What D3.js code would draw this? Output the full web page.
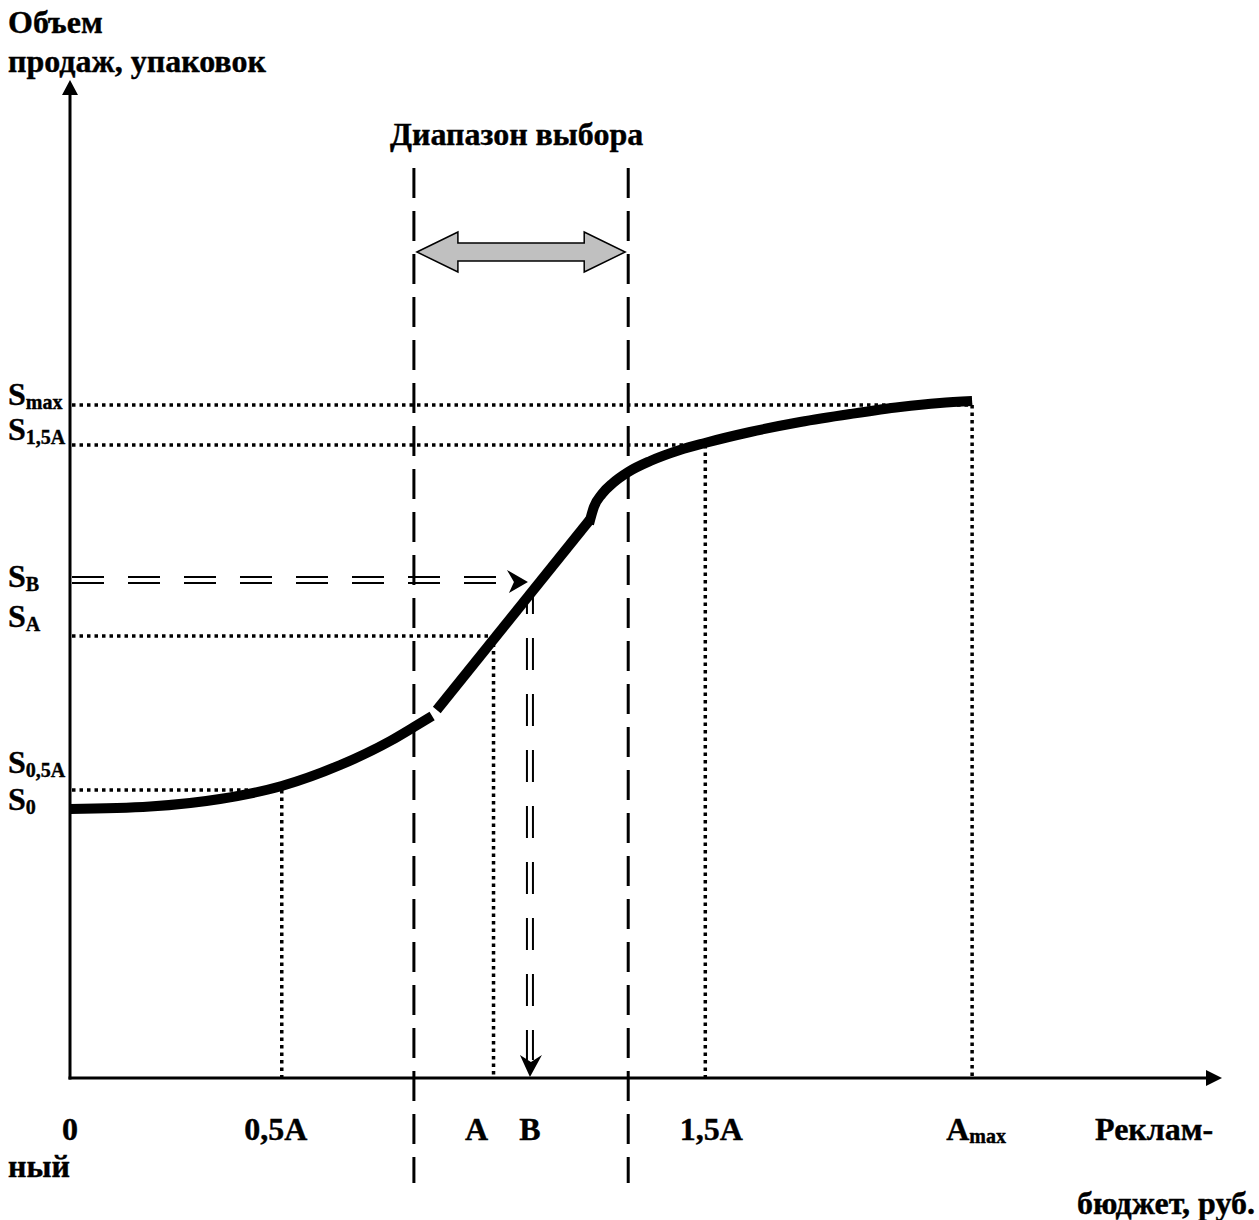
<!DOCTYPE html>
<html>
<head>
<meta charset="utf-8">
<title>Объем продаж и рекламный бюджет</title>
<style>
  body { margin: 0; background: #fff; }
  text { font-family: "Liberation Serif", "Times New Roman", serif; font-weight: bold; fill: #000; stroke: #000; stroke-width: 0.4px; }
</style>
</head>
<body>
<script src="https://cdn.jsdelivr.net/npm/d3@7/dist/d3.min.js"></script>
<script>
// значения по оси X (в долях A) и подписи
const xTickMain = ["0", "0,5A", "A", "B", "1,5A", "A"];
const xTickSub = ["", "", "", "", "", "max"];
const xTickValues = [0, 0.5, 1, 1.086, 1.5, 2.13];

// уровни продаж S
const sLevelSub = ["max", "1,5A", "B", "A", "0,5A", "0"];
const sLevelValues = [67.3, 63.3, 49.8, 44.2, 28.8, 26.9];

// диапазон выбора
const rangeX = [0.812, 1.318];

// кривая отклика: три участка
const lowX = [0, 0.189, 0.354, 0.5, 0.638, 0.756, 0.812, 0.855];
const lowY = [26.9, 27.15, 27.9, 29.2, 31.3, 33.7, 35.1, 36.2];
const midX = [0.866, 1.227];
const midY = [36.8, 55.8];
const highX = [1.2255, 1.237, 1.256, 1.282, 1.318, 1.370, 1.440, 1.499, 1.606, 1.724, 1.842, 1.960, 2.054, 2.130];
const highY = [55.4, 57.1, 58.4, 59.5, 60.6, 61.7, 62.8, 63.5, 64.6, 65.6, 66.4, 67.1, 67.5, 67.7];

var width = 1259, height = 1220;

var svg = d3.select("body").append("svg")
    .attr("width", width)
    .attr("height", height);

var x = d3.scaleLinear().domain([0, 2.72]).range([70, 1222]);
var y = d3.scaleLinear().domain([0, 100]).range([1078, 78]);

var line = d3.line()
    .x(d => x(d[0]))
    .y(d => y(d[1]))
    .curve(d3.curveMonotoneX);

var sVal = name => sLevelValues[sLevelSub.indexOf(name)];
var xVal = i => xTickValues[i];

// точечные линии уровней
var dotted = svg.append("g")
    .attr("stroke", "#000")
    .attr("stroke-width", 3.5)
    .attr("stroke-dasharray", "3.5,4")
    .attr("fill", "none");

var hDots = [["0,5A", 0.5], ["A", 1], ["1,5A", 1.5], ["max", 2.13]];
hDots.forEach(function (h) {
    dotted.append("line")
        .attr("x1", x(0) + 2).attr("x2", x(h[1]))
        .attr("y1", y(sVal(h[0]))).attr("y2", y(sVal(h[0])));
    dotted.append("line")
        .attr("x1", x(h[1])).attr("x2", x(h[1]))
        .attr("y1", y(sVal(h[0]))).attr("y2", y(0));
});

// вертикальные штриховые границы диапазона
svg.append("g").selectAll("line")
    .data(rangeX)
    .enter()
    .append("line")
    .attr("x1", d => x(d)).attr("x2", d => x(d))
    .attr("y1", 168).attr("y2", 1183)
    .attr("stroke", "#000")
    .attr("stroke-width", 3)
    .attr("stroke-dasharray", "30,13");

// двойная стрелка диапазона
var ay = 252, xl = x(rangeX[0]) + 3, xr = x(rangeX[1]) - 3;
var hl = 41, hh = 20, sh = 9;
svg.append("path")
    .attr("d", "M" + xl + "," + ay +
        "L" + (xl + hl) + "," + (ay - hh) + "L" + (xl + hl) + "," + (ay - sh) +
        "L" + (xr - hl) + "," + (ay - sh) + "L" + (xr - hl) + "," + (ay - hh) +
        "L" + xr + "," + ay +
        "L" + (xr - hl) + "," + (ay + hh) + "L" + (xr - hl) + "," + (ay + sh) +
        "L" + (xl + hl) + "," + (ay + sh) + "L" + (xl + hl) + "," + (ay + hh) + "Z")
    .attr("fill", "#c0c0c0")
    .attr("stroke", "#000")
    .attr("stroke-width", 1.5);

// двойная штриховая линия S_B
var sb = y(sVal("B")), bx = x(xVal(3));
[-3, 3].forEach(function (o) {
    svg.append("line")
        .attr("x1", x(0) + 2).attr("x2", bx - 20)
        .attr("y1", sb + o).attr("y2", sb + o)
        .attr("stroke", "#000").attr("stroke-width", 2)
        .attr("stroke-dasharray", "32,24");
});
svg.append("path")
    .attr("d", "M" + (bx - 2) + "," + (sb + 2) + "L" + (bx - 23) + "," + (sb - 10) +
        "L" + (bx - 16) + "," + (sb + 2) + "L" + (bx - 21) + "," + (sb + 13) + "Z")
    .attr("fill", "#000");

// двойная штриховая вертикаль от B вниз
[-3, 3].forEach(function (o) {
    svg.append("line")
        .attr("x1", bx + o).attr("x2", bx + o)
        .attr("y1", sb + 12).attr("y2", y(0) - 18)
        .attr("stroke", "#000").attr("stroke-width", 2)
        .attr("stroke-dasharray", "32,24")
        .attr("stroke-dashoffset", 10);
});
svg.append("path")
    .attr("d", "M" + bx + "," + (y(0) - 1) + "L" + (bx - 10) + "," + (y(0) - 23) +
        "L" + (bx + 1) + "," + (y(0) - 16) + "L" + (bx + 12) + "," + (y(0) - 23) + "Z")
    .attr("fill", "#000");

// оси
svg.append("line")
    .attr("x1", x(0)).attr("x2", x(0))
    .attr("y1", y(0) + 1.5).attr("y2", 92)
    .attr("stroke", "#000").attr("stroke-width", 3);
svg.append("path")
    .attr("d", "M70,80L62,95L78,95Z").attr("fill", "#000");
svg.append("line")
    .attr("x1", x(0) - 1.5).attr("x2", 1210)
    .attr("y1", y(0)).attr("y2", y(0))
    .attr("stroke", "#000").attr("stroke-width", 3);
svg.append("path")
    .attr("d", "M1222,1078L1206,1070L1206,1086Z").attr("fill", "#000");

// кривая
var curveG = svg.append("g")
    .attr("fill", "none")
    .attr("stroke", "#000")
    .attr("stroke-width", 10)
    .attr("stroke-linecap", "butt");
curveG.append("path").attr("d", line(d3.zip(lowX, lowY)));
curveG.append("path").attr("d", d3.line().x(d => x(d[0])).y(d => y(d[1]))(d3.zip(midX, midY)));
curveG.append("path").attr("d", line(d3.zip(highX, highY)));

// подписи оси Y
var sLabelDy = [0, -5, 7, -9, -17, 1];
var sLabels = svg.append("g");
sLevelSub.forEach(function (s, i) {
    var t = sLabels.append("text")
        .attr("x", 8)
        .attr("y", y(sLevelValues[i]) + sLabelDy[i])
        .attr("font-size", 32);
    t.append("tspan").text("S");
    t.append("tspan").attr("font-size", 20).attr("dy", 4).text(s);
});

// подписи оси X
var xLabelDx = [0, -6, -17, 0, 6, 4];
xTickMain.forEach(function (m, i) {
    var t = svg.append("text")
        .attr("x", x(xTickValues[i]) + xLabelDx[i])
        .attr("y", 1140)
        .attr("font-size", 32)
        .attr("text-anchor", "middle");
    t.append("tspan").text(m);
    if (xTickSub[i]) t.append("tspan").attr("font-size", 20).attr("dy", 3).text(xTickSub[i]);
});

svg.append("text").attr("x", 8).attr("y", 33).attr("font-size", 32).text("Объем");
svg.append("text").attr("x", 8).attr("y", 72).attr("font-size", 32).text("продаж, упаковок");
svg.append("text").attr("x", 390).attr("y", 145).attr("font-size", 32).text("Диапазон выбора");
svg.append("text").attr("x", 1095).attr("y", 1140).attr("font-size", 32).text("Реклам-");
svg.append("text").attr("x", 8).attr("y", 1177).attr("font-size", 32).text("ный");
svg.append("text").attr("x", 1255).attr("y", 1214).attr("font-size", 32)
    .attr("text-anchor", "end").text("бюджет, руб.");
</script>
</body>
</html>
